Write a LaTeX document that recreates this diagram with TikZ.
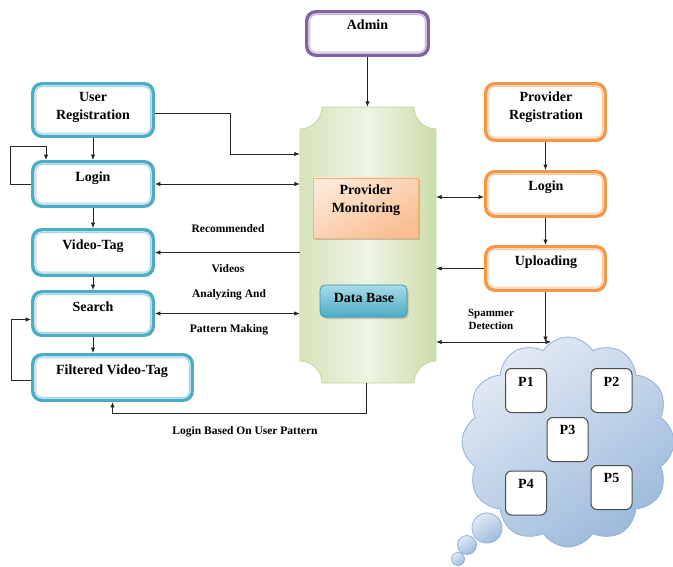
\documentclass[tikz,border=0pt]{standalone}
\usepackage{fontspec}
\setmainfont{Liberation Serif}
\usetikzlibrary{shapes.symbols,shadows,arrows.meta,calc}
\definecolor{bl}{HTML}{4BACC6}
\definecolor{bll}{HTML}{A5D5E2}
\definecolor{orb}{HTML}{F79646}
\definecolor{orl}{HTML}{FAC8A0}
\definecolor{pu}{HTML}{8064A2}
\definecolor{pul}{HTML}{C3B5D8}
\definecolor{cenL}{HTML}{EEF3E4}
\definecolor{cenD}{HTML}{CDDDAA}
\definecolor{cenB}{HTML}{C3D69B}
\definecolor{pmL}{HTML}{FDE7D6}
\definecolor{pmD}{HTML}{F9BE92}
\definecolor{dbL}{HTML}{A9DAE8}
\definecolor{dbD}{HTML}{4BACC6}
\definecolor{dbB}{HTML}{3A93AC}
\definecolor{clL}{HTML}{E2EAF4}
\definecolor{clD}{HTML}{9DBADC}
\definecolor{clB}{HTML}{8EB0DA}
\tikzset{
  framebox/.style 2 args={draw=#1, line width=3.4pt, rounded corners=9pt, fill=white, inner sep=0pt,
    path picture={\draw[#2, line width=1pt, rounded corners=6pt]
      ($(path picture bounding box.south west)+(3pt,3pt)$) rectangle
      ($(path picture bounding box.north east)-(3pt,3pt)$);}},
  ubox/.style={framebox={bl}{bll}},
  obox/.style={framebox={orb}{orl}},
  pbox/.style={framebox={pu}{pul}},
  lbl/.style={font=\fontsize{14}{18}\selectfont\bfseries, align=center, inner sep=0pt},
  elbl/.style={font=\fontsize{11.5}{14}\selectfont\bfseries, align=center, inner sep=0pt},
  slbl/.style={font=\fontsize{11}{13}\selectfont\bfseries, align=center, inner sep=0pt},
  pnode/.style={draw=black!70, line width=1pt, rounded corners=6pt, fill=white, minimum width=41pt, minimum height=44pt, inner sep=0pt},
  conn/.style={draw=black!85, line width=0.8pt},
  >={Latex[length=5.5pt,width=4.5pt]}
}
\begin{document}
\begin{tikzpicture}[x=1pt,y=-1pt]
\useasboundingbox (0,0) rectangle (673,567);

% central shape
\node[minimum width=136pt, minimum height=276pt, inner sep=0pt] (cen) at (368,245) {};
\path[draw=cenB, line width=0.8pt, left color=cenD!80, right color=cenD, middle color=cenL]
  (322,107) -- (414,107) .. controls (414,119) and (424,129) .. (436,129)
  -- (436,361) .. controls (424,361) and (414,371) .. (414,383)
  -- (322,383) .. controls (322,371) and (312,361) .. (300,361)
  -- (300,129) .. controls (312,129) and (322,119) .. (322,107) -- cycle;

\node[draw=orb!75, line width=0.8pt, top color=pmL, bottom color=pmD, shading angle=30,
      drop shadow={shadow xshift=2pt, shadow yshift=-2pt, opacity=0.4},
      minimum width=105pt, minimum height=60pt, inner sep=0pt] (pm) at (365.5,208) {};
\node[lbl] (pmT) at (366,200) {Provider\\Monitoring};

\node[draw=dbB, line width=0.8pt, rounded corners=5pt, top color=dbL, bottom color=dbD,
      drop shadow={shadow xshift=1.5pt, shadow yshift=-2pt, opacity=0.4},
      minimum width=87pt, minimum height=32pt, inner sep=0pt] (db) at (363.5,301) {};
\node[lbl] (dbT) at (364,298) {Data Base};

% left boxes
\node[ubox, minimum width=120.5pt, minimum height=52.5pt] (ur) at (93,110) {};
\node[lbl] (urT) at (93,107) {User\\Registration};
\node[ubox, minimum width=120.5pt, minimum height=44.5pt] (loginL) at (93,184) {};
\node[lbl] (loginLT) at (93,178) {Login};
\node[ubox, minimum width=120.5pt, minimum height=45.5pt] (vt) at (93,252.5) {};
\node[lbl] (vtT) at (93,246) {Video-Tag};
\node[ubox, minimum width=120.5pt, minimum height=43.5pt] (search) at (93,313.5) {};
\node[lbl] (searchT) at (93,307) {Search};
\node[ubox, minimum width=159.5pt, minimum height=45.5pt] (fvt) at (112.5,377.5) {};
\node[lbl] (fvtT) at (112,371) {Filtered Video-Tag};

% admin
\node[pbox, minimum width=121.5pt, minimum height=43.5pt] (admin) at (367.5,33.5) {};
\node[lbl] (adminT) at (367.5,25) {Admin};

% right boxes
\node[obox, minimum width=119.5pt, minimum height=56.5pt] (pr) at (545.5,112) {};
\node[lbl] (prT) at (546,107) {Provider\\Registration};
\node[obox, minimum width=119.5pt, minimum height=44.5pt] (loginR) at (545.5,194) {};
\node[lbl] (loginRT) at (546,187) {Login};
\node[obox, minimum width=119.5pt, minimum height=43.5pt] (upl) at (545.5,268.5) {};
\node[lbl] (uplT) at (546,262) {Uploading};

% cloud
\node[cloud, cloud puffs=12, cloud puff arc=115, aspect=1, draw=clB, line width=0.8pt,
      top color=clL, bottom color=clD, shading angle=35,
      minimum width=212pt, minimum height=210pt] (cloud) at (568,442) {};
\node[circle, draw=clB, line width=0.8pt, top color=clL, bottom color=clD, shading angle=35,
      minimum size=30pt, inner sep=0pt] (b1) at (487,528) {};
\node[circle, draw=clB, line width=0.8pt, top color=clL, bottom color=clD, shading angle=35,
      minimum size=19pt, inner sep=0pt] (b2) at (467,545) {};
\node[circle, draw=clB, line width=0.8pt, top color=clL, bottom color=clD, shading angle=35,
      minimum size=13pt, inner sep=0pt] (b3) at (458,559) {};

\node[pnode] (p1) at (526,390.5) {};
\node[lbl] (p1T) at (526,382) {P1};
\node[pnode] (p2) at (611.5,390.5) {};
\node[lbl] (p2T) at (611.5,382) {P2};
\node[pnode] (p3) at (567.5,439.5) {};
\node[lbl] (p3T) at (567.5,430) {P3};
\node[pnode] (p4) at (526,493) {};
\node[lbl] (p4T) at (526,484) {P4};
\node[pnode] (p5) at (611.5,487.5) {};
\node[lbl] (p5T) at (611.5,478) {P5};

% connectors left column
\draw[conn,->] (ur.south) -- (loginL.north);
\draw[conn,->] (loginL.south) -- (vt.north);
\draw[conn,->] (vt.south) -- (search.north);
\draw[conn,->] (search.south) -- (fvt.north -| search.south);
\draw[conn,->] (loginL.west) -- ++(-21,0) -- ++(0,-38) -| ([xshift=-47pt]loginL.north);
\draw[conn,->] ([yshift=-2.5pt]fvt.west) -- ++(-20,0) |- ([yshift=-6pt]search.west);

% left <-> central
\draw[conn,->] ([yshift=-3pt]ur.east) -- ++(75,0) |- ([yshift=91pt]cen.west);
\draw[conn,<->] (loginL.east) -- (loginL.east -| cen.west);
\draw[conn,->] (vt.east -| cen.west) -- (vt.east);
\draw[conn,<->] (search.east) -- (search.east -| cen.west);
\draw[conn,->] ([xshift=-2pt]cen.south) -- ++(0,30) -| (fvt.south);

% admin
\draw[conn,->] (admin.south) -- (admin.south |- cen.north);

% right
\draw[conn,->] (pr.south) -- (loginR.north);
\draw[conn,->] (loginR.south) -- (upl.north);
\draw[conn,<->] ([yshift=-3pt]loginR.west) coordinate (lrw) -- (lrw -| cen.east);
\draw[conn,->] (upl.west) -- (upl.west -| cen.east);
\coordinate (sp) at (551,342);
\draw[conn,->] (upl.south) -- (upl.south |- sp);
\draw[conn,<->] (sp -| cen.east) -- (sp);

% edge labels
\node[elbl] (l1) at (228,229) {Recommended};
\node[elbl] (l2) at (228,269) {Videos};
\node[elbl] (l3) at (229,295) {Analyzing And};
\node[elbl] (l4) at (229,330) {Pattern Making};
\node[slbl] (l5) at (491,319) {Spammer\\Detection};
\node[elbl] (l6) at (245,432) {Login Based On User Pattern};
\end{tikzpicture}
\end{document}
